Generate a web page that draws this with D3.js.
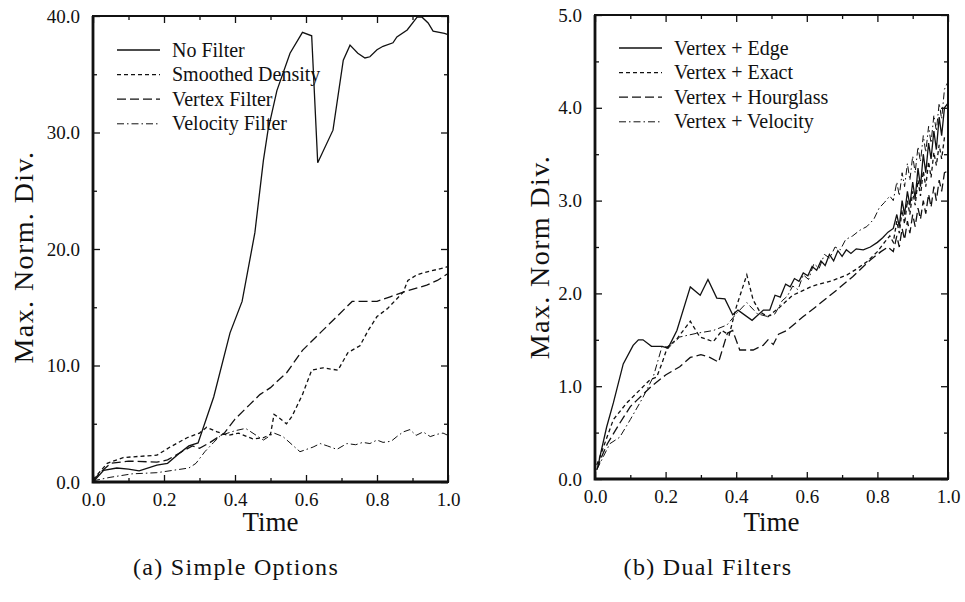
<!DOCTYPE html>
<html>
<head>
<meta charset="utf-8">
<script src="https://cdn.jsdelivr.net/npm/d3@7"></script>
<style>
  body { margin: 0; background: #fff; }
  svg text { font-family: "Liberation Serif", "Times New Roman", Times, serif; fill: #111; }
</style>
</head>
<body>
<svg></svg>
<script>
// tick values
const timeTicks = [0, 0.2, 0.4, 0.6, 0.8, 1.0];
const timeMinor = [0.1, 0.3, 0.5, 0.7, 0.9];
const leftYTicks = [0, 10, 20, 30, 40];
const leftYMinor = [5, 15, 25, 35];
const rightYTicks = [0, 1, 2, 3, 4, 5];
const rightYMinor = [0.5, 1.5, 2.5, 3.5, 4.5];

// (a) Simple Options
const leftNames = ["No Filter", "Smoothed Density", "Vertex Filter", "Velocity Filter"];
const noFilter = [[0,0],[0.03,1.0],[0.067,1.2],[0.1,1.1],[0.13,0.95],[0.18,1.45],[0.21,1.6],[0.245,2.5],[0.27,3.1],[0.296,3.35],
  [0.34,7.3],[0.386,12.8],[0.42,15.5],[0.456,21.4],[0.48,27.6],[0.493,30.2],[0.518,33.6],[0.555,36.8],[0.59,38.6],[0.616,38.3],
  [0.633,27.4],[0.676,30.2],[0.705,36.2],[0.724,37.5],[0.746,36.8],[0.766,36.4],[0.78,36.5],[0.8,37.1],[0.817,37.4],[0.845,37.7],
  [0.856,38.2],[0.885,38.8],[0.913,39.9],[0.927,39.9],[0.944,39.4],[0.958,38.7],[0.99,38.5],[1.0,38.4]];
const smoothedDensity = [[0,0.2],[0.02,0.9],[0.04,1.6],[0.085,2.1],[0.13,2.2],[0.18,2.3],[0.217,3.0],[0.265,3.8],[0.3,4.2],[0.32,4.7],
  [0.35,4.3],[0.38,4.0],[0.41,4.2],[0.45,3.7],[0.48,3.8],[0.5,4.1],[0.51,5.8],[0.52,5.6],[0.545,5.0],[0.56,5.6],[0.59,7.5],[0.616,9.6],
  [0.648,9.8],[0.69,9.6],[0.718,11.1],[0.752,11.7],[0.775,13.0],[0.8,14.2],[0.83,14.9],[0.874,16.3],[0.887,17.3],[0.913,17.8],
  [0.95,18.1],[0.99,18.4],[1.0,18.5]];
const vertexFilter = [[0,0.1],[0.02,0.8],[0.05,1.6],[0.1,1.8],[0.18,1.7],[0.21,1.9],[0.25,2.6],[0.28,3.1],[0.3,2.9],[0.33,3.4],
  [0.37,4.2],[0.4,5.4],[0.44,6.6],[0.47,7.5],[0.5,8.1],[0.546,9.4],[0.59,11.3],[0.64,12.8],[0.687,14.2],[0.73,15.5],[0.8,15.5],
  [0.837,15.9],[0.874,16.3],[0.94,16.9],[0.97,17.3],[1.0,17.9]];
const velocityFilter = [[0,0.1],[0.048,0.4],[0.11,0.7],[0.18,0.8],[0.225,1.0],[0.27,1.2],[0.29,1.6],[0.315,2.6],[0.34,3.4],[0.36,4.0],
  [0.4,4.4],[0.43,4.6],[0.46,4.0],[0.48,3.6],[0.51,4.2],[0.535,3.9],[0.583,2.6],[0.62,3.0],[0.64,3.3],[0.66,3.1],[0.687,2.8],
  [0.715,3.3],[0.74,3.2],[0.76,3.4],[0.78,3.3],[0.8,3.6],[0.817,3.4],[0.84,3.5],[0.856,3.9],[0.874,4.3],[0.893,4.5],[0.91,4.0],
  [0.93,4.3],[0.95,3.9],[0.97,4.1],[0.986,4.2],[1.0,4.0]];

// (b) Dual Filters
const rightNames = ["Vertex + Edge", "Vertex + Exact", "Vertex + Hourglass", "Vertex + Velocity"];
const vertexEdge = [[0.008,0.13],[0.014,0.24],[0.033,0.56],[0.052,0.82],[0.08,1.24],[0.108,1.44],[0.123,1.5],[0.136,1.5],[0.16,1.43],
  [0.19,1.43],[0.207,1.41],[0.232,1.6],[0.27,2.07],[0.298,1.98],[0.32,2.15],[0.345,1.95],[0.368,1.94],[0.39,1.77],[0.405,1.82],
  [0.445,1.71],[0.477,1.82],[0.495,1.82],[0.51,1.98],[0.525,1.96],[0.54,2.1],[0.553,2.07],[0.565,2.16],[0.578,2.13],[0.59,2.22],
  [0.603,2.19],[0.615,2.29],[0.628,2.25],[0.64,2.35],[0.652,2.3],[0.664,2.42],[0.676,2.35],[0.688,2.46],[0.7,2.4],[0.712,2.47],
  [0.725,2.43],[0.74,2.48],[0.76,2.47],[0.78,2.5],[0.8,2.55],[0.815,2.6],[0.83,2.66],[0.845,2.7],[0.855,2.85],[0.862,2.72],
  [0.87,3.0],[0.877,2.85],[0.885,3.1],[0.892,2.95],[0.9,3.2],[0.907,3.02],[0.915,3.35],[0.922,3.15],[0.93,3.5],[0.937,3.3],
  [0.945,3.62],[0.952,3.45],[0.96,3.75],[0.967,3.55],[0.975,3.9],[0.982,3.7],[0.99,4.0],[1.0,4.05]];
const vertexExact = [[0.005,0.15],[0.014,0.24],[0.052,0.64],[0.09,0.82],[0.127,0.96],[0.156,1.07],[0.175,1.1],[0.19,1.25],[0.205,1.42],
  [0.23,1.5],[0.26,1.65],[0.27,1.7],[0.297,1.53],[0.335,1.48],[0.36,1.6],[0.38,1.55],[0.4,1.85],[0.43,2.2],[0.448,1.93],[0.467,1.8],
  [0.49,1.75],[0.52,1.84],[0.56,1.98],[0.617,2.08],[0.674,2.14],[0.714,2.2],[0.74,2.26],[0.77,2.34],[0.8,2.45],[0.82,2.55],
  [0.835,2.62],[0.845,2.55],[0.855,2.78],[0.862,2.65],[0.87,2.9],[0.877,2.75],[0.885,3.0],[0.892,2.85],[0.9,3.1],[0.907,2.95],
  [0.915,3.22],[0.922,3.05],[0.93,3.32],[0.937,3.15],[0.945,3.42],[0.952,3.25],[0.96,3.52],[0.967,3.38],[0.975,3.6],[0.982,3.45],
  [0.99,3.68],[1.0,3.7]];
const vertexHourglass = [[0.005,0.1],[0.02,0.25],[0.035,0.38],[0.07,0.6],[0.1,0.78],[0.119,0.85],[0.16,1.0],[0.2,1.12],[0.24,1.21],
  [0.27,1.31],[0.3,1.34],[0.325,1.31],[0.35,1.26],[0.375,1.57],[0.39,1.6],[0.41,1.39],[0.448,1.39],[0.476,1.44],[0.49,1.5],
  [0.505,1.45],[0.52,1.56],[0.543,1.6],[0.59,1.75],[0.637,1.89],[0.686,2.04],[0.73,2.18],[0.78,2.36],[0.81,2.45],[0.83,2.5],
  [0.845,2.45],[0.855,2.62],[0.862,2.5],[0.87,2.7],[0.877,2.58],[0.885,2.78],[0.892,2.65],[0.9,2.85],[0.907,2.72],[0.915,2.92],
  [0.922,2.8],[0.93,3.0],[0.937,2.86],[0.945,3.07],[0.952,2.93],[0.96,3.15],[0.967,3.0],[0.975,3.22],[0.982,3.1],[0.99,3.3],[1.0,3.32]];
const vertexVelocity = [[0.005,0.1],[0.042,0.38],[0.07,0.45],[0.1,0.64],[0.136,0.88],[0.165,1.1],[0.19,1.43],[0.21,1.42],[0.24,1.53],
  [0.288,1.57],[0.335,1.6],[0.374,1.66],[0.4,1.78],[0.43,1.9],[0.46,1.78],[0.49,1.75],[0.51,1.78],[0.53,1.92],[0.545,1.97],
  [0.56,2.08],[0.575,2.04],[0.59,2.2],[0.605,2.15],[0.62,2.32],[0.635,2.27],[0.65,2.42],[0.665,2.38],[0.68,2.5],[0.695,2.47],
  [0.71,2.58],[0.73,2.62],[0.75,2.68],[0.77,2.72],[0.79,2.8],[0.805,2.92],[0.82,2.98],[0.835,3.05],[0.845,3.0],[0.855,3.2],
  [0.862,3.05],[0.87,3.3],[0.877,3.15],[0.885,3.4],[0.892,3.22],[0.9,3.48],[0.907,3.3],[0.915,3.58],[0.922,3.42],[0.93,3.7],
  [0.937,3.52],[0.945,3.8],[0.952,3.62],[0.96,3.92],[0.967,3.75],[0.975,4.05],[0.982,3.88],[0.99,4.2],[1.0,4.28]];

const width = 965;
const height = 602;
const svg = d3.select("svg")
              .attr("width", width)
              .attr("height", height);

// solid, short dash, long dash, dash-dot
const dashes = [null, "4,3", "9,4", "7,3,1.5,3"];
const widths = [1.3, 1.3, 1.3, 1];

function drawPanel(p) {
  const x = d3.scaleLinear().domain([0, 1]).range([p.x0, p.x1]);
  const y = d3.scaleLinear().domain([0, p.ymax]).range([p.y0, p.y1]);
  const g = svg.append("g");

  // bottom axis with labels
  g.append("g").attr("transform", `translate(0,${p.y0})`)
    .call(d3.axisBottom(x).tickValues(timeTicks).tickFormat(d3.format(".1f")).tickSize(-7).tickSizeOuter(0).tickPadding(11));
  g.append("g").attr("transform", `translate(0,${p.y0})`)
    .call(d3.axisBottom(x).tickValues(timeMinor).tickFormat("").tickSize(-4).tickSizeOuter(0));
  // top axis, ticks only
  g.append("g").attr("transform", `translate(0,${p.y1})`)
    .call(d3.axisTop(x).tickValues(timeTicks).tickFormat("").tickSize(-7).tickSizeOuter(0));
  g.append("g").attr("transform", `translate(0,${p.y1})`)
    .call(d3.axisTop(x).tickValues(timeMinor).tickFormat("").tickSize(-4).tickSizeOuter(0));
  // left axis with labels
  g.append("g").attr("transform", `translate(${p.x0},0)`)
    .call(d3.axisLeft(y).tickValues(p.yTicks).tickFormat(d3.format(".1f")).tickSize(-7).tickSizeOuter(0).tickPadding(13));
  g.append("g").attr("transform", `translate(${p.x0},0)`)
    .call(d3.axisLeft(y).tickValues(p.yMinor).tickFormat("").tickSize(-4).tickSizeOuter(0));
  // right axis, ticks only
  g.append("g").attr("transform", `translate(${p.x1},0)`)
    .call(d3.axisRight(y).tickValues(p.yTicks).tickFormat("").tickSize(-7).tickSizeOuter(0));
  g.append("g").attr("transform", `translate(${p.x1},0)`)
    .call(d3.axisRight(y).tickValues(p.yMinor).tickFormat("").tickSize(-4).tickSizeOuter(0));

  g.selectAll(".domain").remove();
  g.selectAll(".tick line").attr("stroke", "#111").attr("stroke-width", 1.3);
  g.selectAll(".tick text").attr("font-size", 19).attr("fill", "#111");

  // frame, heavier on the left and bottom
  g.append("rect")
    .attr("x", p.x0).attr("y", p.y1)
    .attr("width", p.x1 - p.x0).attr("height", p.y0 - p.y1)
    .attr("fill", "none").attr("stroke", "#111").attr("stroke-width", 2);
  g.append("path")
    .attr("d", `M${p.x0},${p.y1}V${p.y0}H${p.x1}`)
    .attr("fill", "none").attr("stroke", "#111").attr("stroke-width", 2.8);

  // curves
  const line = d3.line().x(d => x(d[0])).y(d => y(d[1]));
  g.selectAll("path.series")
    .data(p.series)
    .enter()
    .append("path")
      .attr("class", "series")
      .attr("d", line)
      .attr("fill", "none")
      .attr("stroke", "#111")
      .attr("stroke-width", (d, i) => widths[i])
      .attr("stroke-dasharray", (d, i) => dashes[i]);

  // legend
  const leg = g.append("g");
  p.names.forEach(function(name, i) {
    const ly = p.legY + i * 24.6;
    leg.append("line")
      .attr("x1", p.legX).attr("x2", p.legX + 43)
      .attr("y1", ly).attr("y2", ly)
      .attr("stroke", "#111")
      .attr("stroke-width", widths[i])
      .attr("stroke-dasharray", dashes[i]);
    leg.append("text")
      .attr("x", p.legX + p.legGap).attr("y", ly)
      .attr("dy", "0.33em")
      .attr("font-size", 20)
      .text(name);
  });

  // axis titles
  g.append("text")
    .attr("x", (p.x0 + p.x1) / 2).attr("y", 531)
    .attr("text-anchor", "middle")
    .attr("font-size", 27)
    .text("Time");
  g.append("text")
    .attr("transform", `translate(${p.yLabelX},${p.yLabelY}) rotate(-90)`)
    .attr("text-anchor", "middle")
    .attr("font-size", 28)
    .attr("letter-spacing", 1.4)
    .text(p.yLabel);
  g.append("text")
    .attr("x", p.capX).attr("y", 575)
    .attr("text-anchor", "middle")
    .attr("font-size", 24)
    .attr("letter-spacing", 1.3)
    .text(p.caption);
}

drawPanel({
  x0: 93, x1: 448, y0: 482, y1: 16, ymax: 40,
  yTicks: leftYTicks, yMinor: leftYMinor,
  series: [noFilter, smoothedDensity, vertexFilter, velocityFilter],
  names: leftNames, legX: 117, legY: 50, legGap: 55,
  yLabel: "Max. Norm. Div.", yLabelX: 33, yLabelY: 257,
  caption: "(a) Simple Options", capX: 236
});

drawPanel({
  x0: 595, x1: 948, y0: 479, y1: 15, ymax: 5,
  yTicks: rightYTicks, yMinor: rightYMinor,
  series: [vertexEdge, vertexExact, vertexHourglass, vertexVelocity],
  names: rightNames, legX: 619, legY: 48, legGap: 55,
  yLabel: "Max. Norm Div.", yLabelX: 549, yLabelY: 257,
  caption: "(b) Dual Filters", capX: 708
});
</script>
</body>
</html>
